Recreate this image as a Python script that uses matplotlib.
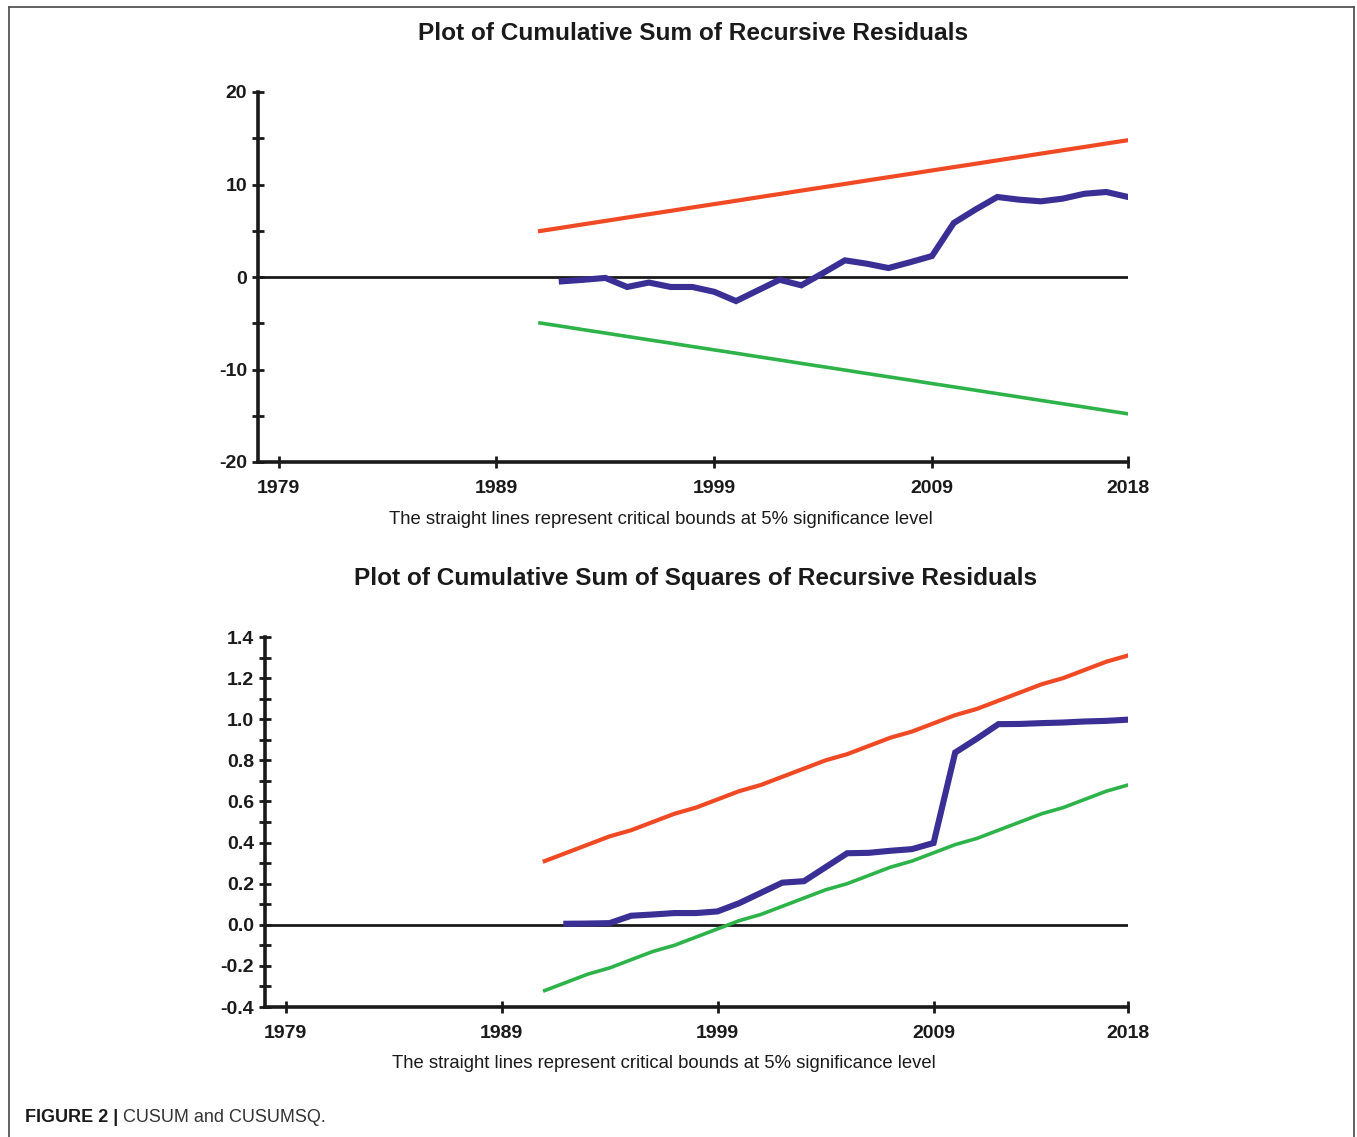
import matplotlib
matplotlib.use("Agg")
import matplotlib.pyplot as plt
from matplotlib.lines import Line2D
from matplotlib.ticker import MultipleLocator, FixedLocator

plt.rcParams['font.family'] = ['Liberation Sans', 'DejaVu Sans']

# ---- data -------------------------------------------------------------
bound_years = list(range(1991, 2019))
stat_years = list(range(1992, 2019))

cusum = [-0.47, -0.30, -0.10, -1.08, -0.60, -1.08, -1.08, -1.60, -2.60,
         -1.45, -0.30, -0.90, 0.43, 1.80, 1.44, 0.97, 1.60, 2.27, 5.84,
         7.30, 8.65, 8.36, 8.18, 8.47, 9.00, 9.19, 8.65]
cusum_upper = [4.97, 5.33, 5.70, 6.06, 6.43, 6.79, 7.15, 7.52, 7.88, 8.24,
               8.61, 8.97, 9.34, 9.70, 10.06, 10.43, 10.79, 11.15, 11.52,
               11.88, 12.24, 12.61, 12.97, 13.34, 13.70, 14.06, 14.43, 14.79]
cusum_lower = [-4.97, -5.33, -5.70, -6.06, -6.43, -6.79, -7.15, -7.52, -7.88,
               -8.24, -8.61, -8.97, -9.34, -9.70, -10.06, -10.43, -10.79,
               -11.15, -11.52, -11.88, -12.24, -12.61, -12.97, -13.34,
               -13.70, -14.06, -14.43, -14.79]

cusumsq = [0.005, 0.006, 0.008, 0.044, 0.050, 0.057, 0.057, 0.065, 0.105,
           0.155, 0.205, 0.212, 0.280, 0.348, 0.350, 0.360, 0.368, 0.398,
           0.838, 0.905, 0.976, 0.977, 0.981, 0.984, 0.989, 0.992, 0.998]
cusumsq_upper = [0.31, 0.35, 0.39, 0.43, 0.46, 0.50, 0.54, 0.57, 0.61, 0.65,
                 0.68, 0.72, 0.76, 0.80, 0.83, 0.87, 0.91, 0.94, 0.98, 1.02,
                 1.05, 1.09, 1.13, 1.17, 1.20, 1.24, 1.28, 1.31]
cusumsq_lower = [-0.32, -0.28, -0.24, -0.21, -0.17, -0.13, -0.10, -0.06,
                 -0.02, 0.02, 0.05, 0.09, 0.13, 0.17, 0.20, 0.24, 0.28, 0.31,
                 0.35, 0.39, 0.42, 0.46, 0.50, 0.54, 0.57, 0.61, 0.65, 0.68]

year_ticks = [1979, 1989, 1999, 2009, 2018]

titles = ["Plot of Cumulative Sum of Recursive Residuals",
          "Plot of Cumulative Sum of Squares of Recursive Residuals"]
note = "The straight lines represent critical bounds at 5% significance level"

RED = "#f04a25"
BLUE = "#3a2f95"
GREEN = "#2db34a"
INK = "#1a1a1a"

fig = plt.figure(figsize=(13.57, 11.37), dpi=100)
W, H = 1357, 1137


def frac_rect(left, top, right, bottom):
    return [left / W, 1 - bottom / H, (right - left) / W, (bottom - top) / H]


def style_axes(ax, ylim, major, minor, fmt):
    ax.set_xlim(1978.05, 2018)
    ax.set_ylim(*ylim)
    for s in ("top", "right"):
        ax.spines[s].set_visible(False)
    for s in ("left", "bottom"):
        ax.spines[s].set_linewidth(2.6)
        ax.spines[s].set_color(INK)
    ax.xaxis.set_major_locator(FixedLocator(year_ticks))
    ax.yaxis.set_major_locator(MultipleLocator(major))
    ax.yaxis.set_minor_locator(MultipleLocator(minor))
    ax.xaxis.set_minor_locator(FixedLocator([]))
    ax.yaxis.set_major_formatter(plt.FuncFormatter(fmt))
    ax.tick_params(axis="both", which="both", direction="inout",
                   length=8, width=2, color=INK)
    ax.tick_params(axis="y", which="major", pad=4)
    ax.tick_params(axis="x", which="major", pad=9)
    for lab in ax.get_xticklabels() + ax.get_yticklabels():
        lab.set_fontweight("bold")
        lab.set_fontsize(14)
        lab.set_color(INK)
    ax.axhline(0, color=INK, lw=2.0, zorder=2)


# ---- CUSUM ------------------------------------------------------------
ax1 = fig.add_axes(frac_rect(258, 92, 1128, 462))
ax1.plot(bound_years, cusum_upper, color=RED, lw=3.0, zorder=3)
ax1.plot(bound_years, cusum_lower, color=GREEN, lw=2.6, zorder=3)
ax1.plot(stat_years, cusum, color=BLUE, lw=4.4, zorder=4,
         solid_joinstyle="miter")
style_axes(ax1, (-20, 20), 10, 5, lambda v, p: f"{v:.0f}")

# ---- CUSUM of squares ---------------------------------------------------
ax2 = fig.add_axes(frac_rect(265, 637, 1128, 1007))
ax2.plot(bound_years, cusumsq_upper, color=RED, lw=3.0, zorder=3)
ax2.plot(bound_years, cusumsq_lower, color=GREEN, lw=2.6, zorder=3)
ax2.plot(stat_years, cusumsq, color=BLUE, lw=4.4, zorder=4,
         solid_joinstyle="miter")
style_axes(ax2, (-0.4, 1.4), 0.2, 0.1, lambda v, p: f"{v:.1f}")

# ---- titles and notes -------------------------------------------------
fig.text(693 / W, 1 - 33 / H, titles[0], ha="center", va="center",
         fontsize=17.6, fontweight="bold", color=INK)
fig.text(696 / W, 1 - 578 / H, titles[1], ha="center", va="center",
         fontsize=17.6, fontweight="bold", color=INK)
fig.text(661 / W, 1 - 519 / H, note, ha="center", va="center",
         fontsize=13.3, color=INK)
fig.text(664 / W, 1 - 1064 / H, note, ha="center", va="center",
         fontsize=13.3, color=INK)

cap = fig.text(25 / W, 1 - 1118 / H, "FIGURE 2 | ", ha="left", va="center",
               fontsize=13, fontweight="bold", color=INK)
fig.canvas.draw()
bb = cap.get_window_extent()
fig.text(bb.x1 / W, 1 - 1118 / H, "CUSUM and CUSUMSQ.", ha="left",
         va="center", fontsize=13, color="#333333")

# ---- panel frame ------------------------------------------------------
frame_kw = dict(color="#555555", lw=1.3, transform=fig.transFigure)
fig.add_artist(Line2D([9 / W, 1354 / W], [1 - 7 / H, 1 - 7 / H], **frame_kw))
fig.add_artist(Line2D([9 / W, 9 / W], [1 - 7 / H, 0], **frame_kw))
fig.add_artist(Line2D([1354 / W, 1354 / W], [1 - 7 / H, 0], **frame_kw))

fig.savefig("out.png", dpi=100)
